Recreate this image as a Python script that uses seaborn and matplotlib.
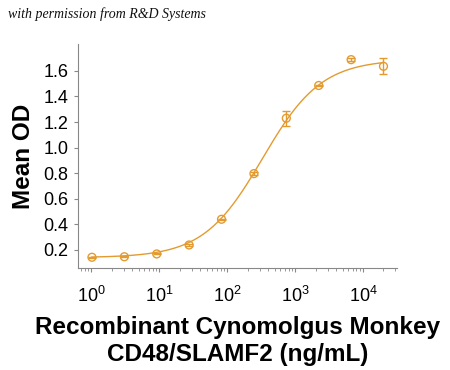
import numpy as np
import pandas as pd
import matplotlib
matplotlib.use("Agg")
import matplotlib.pyplot as plt
import seaborn as sns
from matplotlib.ticker import LogLocator, NullFormatter

# Data
conc = [1.016, 3.05, 9.14, 27.4, 82.3, 247, 741, 2222, 6667, 20000]
mean_od = [0.143, 0.147, 0.169, 0.239, 0.44, 0.797, 1.23, 1.486, 1.688, 1.636]
od_err = [0.004, 0.004, 0.004, 0.006, 0.006, 0.01, 0.057, 0.006, 0.012, 0.062]

# 4PL fit parameters estimated from the drawn curve
fit_bottom = 0.14
fit_top = 1.69
fit_ec50 = 330
fit_hill = 1.0

color = "#E39B2F"

sns.set_theme(style="ticks")
plt.rcParams["font.family"] = ["Liberation Sans", "DejaVu Sans"]
plt.rcParams["text.color"] = "black"
plt.rcParams["axes.labelcolor"] = "black"
plt.rcParams["xtick.labelcolor"] = "black"
plt.rcParams["ytick.labelcolor"] = "black"

df = pd.DataFrame({"conc": conc, "od": mean_od, "err": od_err})
xs = np.logspace(0, np.log10(20000), 300)
curve = pd.DataFrame({"conc": xs,
                      "od": fit_bottom + (fit_top - fit_bottom) / (1 + (fit_ec50 / xs) ** fit_hill)})

fig = plt.figure(figsize=(4.5, 3.7), dpi=100)
ax = fig.add_axes([0.173, 0.276, 0.71, 0.605])

sns.lineplot(data=curve, x="conc", y="od", color=color, linewidth=1, ax=ax)
ax.errorbar(df["conc"], df["od"], yerr=df["err"], fmt="none", ecolor=color,
            elinewidth=1, capsize=3, capthick=1)
sns.scatterplot(data=df, x="conc", y="od", marker="o", s=32, facecolor="none",
                edgecolor=color, linewidth=1, ax=ax, zorder=3)

ax.set_xscale("log")
ax.set_xlim(0.63, 3.2e4)
ax.set_ylim(0.06, 1.81)
ax.set_yticks([0.2, 0.4, 0.6, 0.8, 1.0, 1.2, 1.4, 1.6])
ax.set_yticklabels(["0.2", "0.4", "0.6", "0.8", "1.0", "1.2", "1.4", "1.6"])
ax.xaxis.set_major_locator(LogLocator(base=10, numticks=10))
ax.xaxis.set_minor_locator(LogLocator(base=10, subs=np.arange(2, 10), numticks=20))
ax.xaxis.set_minor_formatter(NullFormatter())

for s in ["top", "right"]:
    ax.spines[s].set_visible(False)
for s in ["left", "bottom"]:
    ax.spines[s].set_color("#888888")
    ax.spines[s].set_linewidth(0.8)
ax.tick_params(axis="both", which="major", labelsize=13, color="#888888", length=3, width=0.8)
ax.tick_params(axis="x", which="minor", color="#888888", length=2, width=0.6)
ax.tick_params(axis="x", which="major", pad=10)
ax.tick_params(axis="y", which="major", pad=4)

ax.set_xlabel("Recombinant Cynomolgus Monkey\nCD48/SLAMF2 (ng/mL)", fontsize=17.5,
              fontweight="bold", labelpad=7, linespacing=1.25)
ax.set_ylabel("Mean OD", fontsize=17.5, fontweight="bold", labelpad=6)

fig.text(0.018, 0.952, "with permission from R&D Systems", fontsize=10,
         style="italic", family="Liberation Serif", color="#111111")

fig.savefig("out.png", dpi=100)
